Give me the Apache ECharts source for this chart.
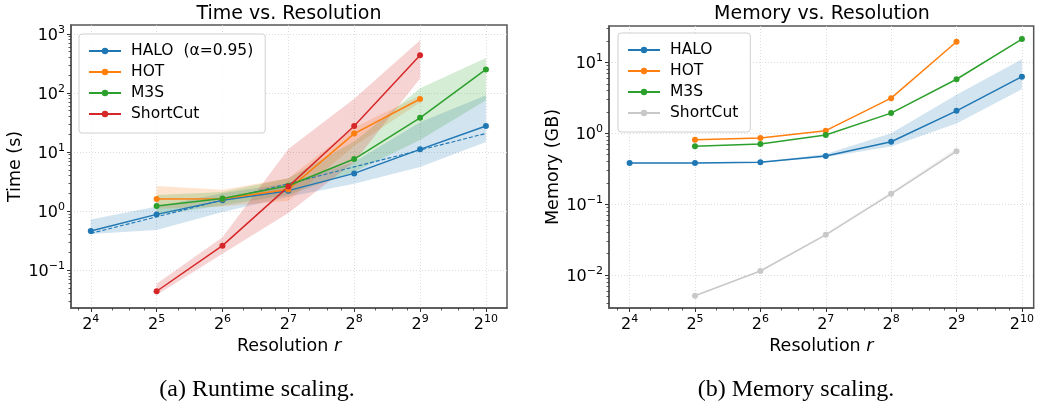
<!DOCTYPE html>
<html>
<head>
<meta charset="utf-8">
<script src="https://cdn.jsdelivr.net/npm/echarts@6/dist/echarts.min.js"></script>
<style>
html,body{margin:0;padding:0;background:#fff;}
#c{width:1037px;height:404px;}
</style>
</head>
<body>
<div id="c"></div>
<script>
// ---------- data ----------
const RES = [16, 32, 64, 128, 256, 512, 1024];
const RES5 = [32, 64, 128, 256, 512];
const RES6 = [32, 64, 128, 256, 512, 1024];
const X_TICKS = [16, 32, 64, 128, 256, 512, 1024];
const T_TICKS = [0.1, 1, 10, 100, 1000];
const M_TICKS = [0.01, 0.1, 1, 10];

// Runtime (s)
const haloT    = [0.46, 0.88, 1.52, 2.22, 4.35, 11.1, 27.5];
const haloTLo  = [0.41, 0.48, 0.97, 1.75, 2.9, 5.6, 14.8];
const haloTHi  = [0.72, 1.2, 2.0, 2.95, 6.8, 32, 91];
const haloTFit = [0.42, 0.80, 1.54, 2.9, 5.6, 10.8, 20.6];
const hotT     = [1.6, 1.62, 2.33, 20.5, 79];
const hotTLo   = [1.1, 1.2, 1.5, 12.6, 69];
const hotTHi   = [2.65, 2.3, 3.6, 26, 91];
const m3sT     = [1.22, 1.64, 2.68, 7.6, 38, 250];
const m3sTLo   = [0.86, 1.24, 1.9, 4.6, 16, 75];
const m3sTHi   = [1.87, 2.1, 3.6, 15, 120, 390];
const scT      = [0.044, 0.26, 2.6, 27.5, 435];
const scTLo    = [0.038, 0.19, 0.93, 6.8, 175];
const scTHi    = [0.059, 0.36, 11.3, 80, 780];

// Memory (GB)
const haloM    = [0.38, 0.38, 0.39, 0.48, 0.76, 2.08, 6.3];
const haloMLo  = [0.375, 0.375, 0.385, 0.46, 0.65, 1.38, 4.2];
const haloMHi  = [0.385, 0.385, 0.395, 0.51, 1.0, 3.5, 11.1];
const hotM     = [0.81, 0.86, 1.09, 3.14, 19.6];
const m3sM     = [0.66, 0.71, 0.95, 1.93, 5.8, 21.4];
const scM      = [0.0051, 0.0114, 0.037, 0.14, 0.56];
const scMLo    = [0.0050, 0.0112, 0.0365, 0.138, 0.53];
const scMHi    = [0.0052, 0.0117, 0.039, 0.15, 0.62];

// ---------- styling ----------
const C = {blue:'#1f77b4', orange:'#ff7f0e', green:'#2ca02c', red:'#d62728', gray:'#c8c8c8'};
const FONT = 'DejaVu Sans';
const SPINE = '#555';

function pairs(xs, ys){ return xs.map((x,i)=>[x, ys[i]]); }
function minorX(lo, hi){ const r=[]; for(let k=2;k<=11;k++){ [1.25,1.5,1.75].forEach(m=>{const v=Math.pow(2,k)*m; if(v>lo&&v<hi) r.push(v);}); } return r; }
function minorY(lo, hi){ const r=[]; for(let k=-4;k<=4;k++){ for(let m=2;m<=9;m++){ const v=m*Math.pow(10,k); if(v>lo&&v<hi) r.push(v);} } return r; }

const sup = {fontSize: 11, fontFamily: FONT, color:'#000', verticalAlign:'bottom', padding:[0,0,8,0]};
const base = {fontSize: 16, fontFamily: FONT, color:'#000', verticalAlign:'bottom'};
function xFmt(v){ return '{b|2}{s|' + Math.round(Math.log2(v)) + '}'; }
function yFmt(v){ const e=Math.round(Math.log10(v)); return '{b|10}{s|' + (e<0?'\u2212'+(-e):e) + '}'; }

const X0 = [Math.pow(2,3.70), Math.pow(2,10.32)];
const Y0 = [Math.pow(10,-1.64), Math.pow(10,3.15)];
const X1 = [Math.pow(2,3.685), Math.pow(2,10.18)];
const Y1 = [Math.pow(10,-2.465), Math.pow(10,1.515)];

function mainX(grid, ext, name){
  return {type:'log', logBase:2, gridIndex:grid, min:ext[0], max:ext[1], position:'bottom',
    name:name, nameLocation:'middle', nameGap:22,
    nameTextStyle:{fontSize:17.5, fontFamily:FONT, color:'#000', rich:{i:{fontSize:17.5,fontFamily:FONT,fontStyle:'italic',color:'#000'}}},
    axisLine:{show:true, lineStyle:{color:SPINE, width:1.5}},
    axisTick:{show:true, customValues:X_TICKS, length:4, lineStyle:{color:'#333', width:1}},
    axisLabel:{customValues:X_TICKS, formatter:xFmt, margin:6, rich:{b:base, s:sup}},
    splitLine:{show:true, lineStyle:{color:'#d4d4d4', type:[1,2], width:0.8}},
    minorTick:{show:false}};
}
function minorXAxis(grid, ext){
  return {type:'log', logBase:2, gridIndex:grid, min:ext[0], max:ext[1], position:'bottom',
    axisLine:{show:false}, axisLabel:{show:false}, splitLine:{show:false},
    axisTick:{show:true, customValues:minorX(ext[0],ext[1]), length:2.5, lineStyle:{color:'#333', width:0.8}}};
}
function mainY(grid, ext, ticks, name){
  return {type:'log', logBase:10, gridIndex:grid, min:ext[0], max:ext[1], position:'left',
    name:name, nameLocation:'middle', nameGap:46,
    nameTextStyle:{fontSize:17.5, fontFamily:FONT, color:'#000'},
    axisLine:{show:true, lineStyle:{color:SPINE, width:1.5}},
    axisTick:{show:true, customValues:ticks, length:4, lineStyle:{color:'#333', width:1}},
    axisLabel:{customValues:ticks, formatter:yFmt, margin:6, rich:{b:base, s:sup}},
    splitLine:{show:true, lineStyle:{color:'#d4d4d4', type:[1,2], width:0.8}}};
}
function minorYAxis(grid, ext){
  return {type:'log', logBase:10, gridIndex:grid, min:ext[0], max:ext[1], position:'left',
    axisLine:{show:false}, axisLabel:{show:false}, splitLine:{show:false},
    axisTick:{show:true, customValues:minorY(ext[0],ext[1]), length:2.5, lineStyle:{color:'#333', width:0.8}}};
}

function band(xi, yi, xs, lo, hi, color){
  return {type:'custom', xAxisIndex:xi, yAxisIndex:yi, silent:true, z:1, clip:true,
    data: xs.map((x,i)=>[x, lo[i], hi[i]]),
    encode:{x:0, y:[1,2]},
    renderItem:function(params, api){
      if(params.dataIndex!==0) return null;
      const pts=[];
      for(let i=0;i<xs.length;i++) pts.push(api.coord([xs[i], lo[i]]));
      for(let i=xs.length-1;i>=0;i--) pts.push(api.coord([xs[i], hi[i]]));
      return {type:'polygon', shape:{points:pts}, style:{fill:color, opacity:0.2}};
    }};
}
function line(xi, yi, name, xs, ys, color, extra){
  return Object.assign({type:'line', name:name, xAxisIndex:xi, yAxisIndex:yi, z:3,
    data:pairs(xs, ys), symbol:'circle', symbolSize:6, showSymbol:true,
    itemStyle:{color:color}, lineStyle:{color:color, width:1.5}, emphasis:{disabled:true}, animation:false}, extra||{});
}

const chart = echarts.init(document.getElementById('c'), null, {renderer:'canvas'});
const legendCommon = {orient:'vertical', itemWidth:32, itemHeight:8, itemGap:5,
  padding:[9,12,11,9], borderColor:'#d0d0d0', borderWidth:1, borderRadius:3,
  backgroundColor:'rgba(255,255,255,0.85)', selectedMode:false,
  textStyle:{fontSize:15.5, fontFamily:FONT, color:'#000', padding:[0,0,0,5]}};

chart.setOption({
  animation:false,
  backgroundColor:'#fff',
  grid:[
    {left:71, top:25, width:436, height:283, show:true, borderColor:SPINE, borderWidth:1.5},
    {left:609, top:26, width:427, height:282, show:true, borderColor:SPINE, borderWidth:1.5}
  ],
  xAxis:[ mainX(0, X0, 'Resolution {i|r}'), minorXAxis(0, X0), mainX(1, X1, 'Resolution {i|r}'), minorXAxis(1, X1) ],
  yAxis:[ mainY(0, Y0, T_TICKS, 'Time (s)'), minorYAxis(0, Y0), mainY(1, Y1, M_TICKS, 'Memory (GB)'), minorYAxis(1, Y1) ],
  legend:[
    Object.assign({left:79, top:34, data:['HALO  (\u03b1=0.95)','HOT','M3S','ShortCut']}, legendCommon),
    Object.assign({left:618, top:33, data:['HALO','HOT (mem)','M3S (mem)','ShortCut (mem)'],
      formatter:function(n){return n.replace(' (mem)','');}}, legendCommon)
  ],
  graphic:[
    {type:'text', x:289, y:14, style:{text:'Time vs. Resolution', font:'19px "DejaVu Sans"', fill:'#000', textAlign:'center', textVerticalAlign:'middle'}},
    {type:'text', x:822, y:14, style:{text:'Memory vs. Resolution', font:'19px "DejaVu Sans"', fill:'#000', textAlign:'center', textVerticalAlign:'middle'}},
    {type:'text', x:257, y:390, style:{text:'(a) Runtime scaling.', font:'24px "Liberation Serif"', fill:'#000', textAlign:'center', textVerticalAlign:'middle'}},
    {type:'text', x:796, y:390, style:{text:'(b) Memory scaling.', font:'24px "Liberation Serif"', fill:'#000', textAlign:'center', textVerticalAlign:'middle'}}
  ],
  series:[
    band(0,0, RES, haloTLo, haloTHi, C.blue),
    band(0,0, RES5, hotTLo, hotTHi, C.orange),
    band(0,0, RES6, m3sTLo, m3sTHi, C.green),
    band(0,0, RES5, scTLo, scTHi, C.red),
    line(0,0,'HALO  (\u03b1=0.95)', RES, haloT, C.blue),
    line(0,0,'HALO fit', RES, haloTFit, C.blue, {symbol:'none', showSymbol:false, lineStyle:{color:C.blue, width:1.1, type:[4,2]}, z:2}),
    line(0,0,'HOT', RES5, hotT, C.orange),
    line(0,0,'M3S', RES6, m3sT, C.green),
    line(0,0,'ShortCut', RES5, scT, C.red),

    band(2,2, RES, haloMLo, haloMHi, C.blue),
    band(2,2, RES5, scMLo, scMHi, C.gray),
    line(2,2,'HALO', RES, haloM, C.blue),
    line(2,2,'HOT (mem)', RES5, hotM, C.orange),
    line(2,2,'M3S (mem)', RES6, m3sM, C.green),
    line(2,2,'ShortCut (mem)', RES5, scM, C.gray)
  ]
});
</script>
</body>
</html>
